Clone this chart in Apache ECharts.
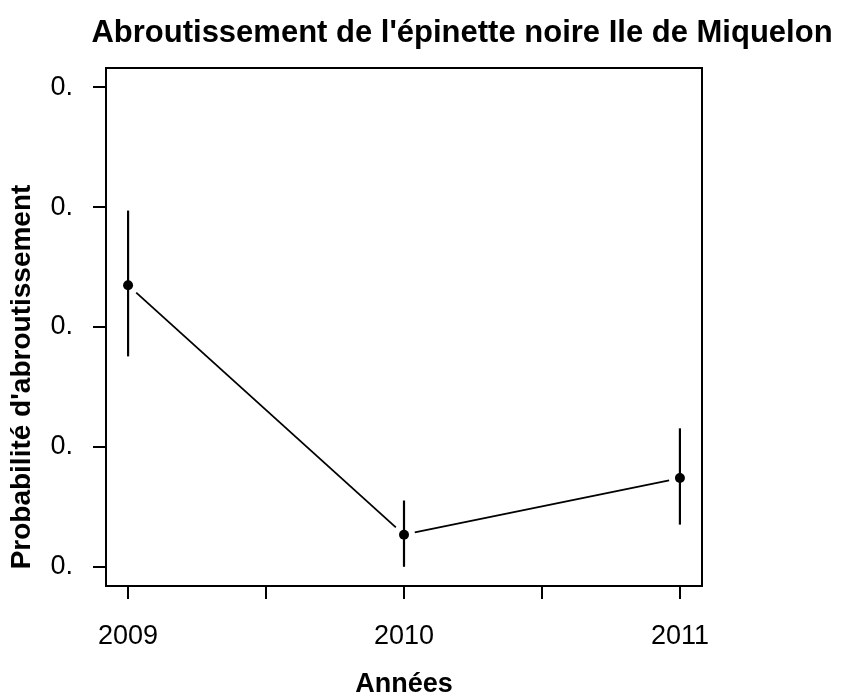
<!DOCTYPE html>
<html>
<head>
    <meta charset="utf-8">
    <title>Abroutissement de l'épinette noire Ile de Miquelon</title>
    <script src="https://cdn.jsdelivr.net/npm/echarts@6/dist/echarts.min.js"></script>
    <style>
        html, body { margin: 0; padding: 0; background: #fff; }
        #chart-container { width: 847px; height: 700px; }
    </style>
</head>
<body>
<div id="chart-container"></div>
<script>
    // données
    var years = [2009, 2010, 2011];
    var prob = [0.2348, 0.0268, 0.0740];
    var ciLow = [0.1755, 0.0000, 0.0352];
    var ciHigh = [0.2971, 0.0553, 0.1155];

    var xTicks = [2009, 2009.5, 2010, 2010.5, 2011];
    var xLabels = [2009, 2010, 2011];
    var yTicks = [0, 0.1, 0.2, 0.3, 0.4];
    var yTickLabels = ['0.', '0.', '0.', '0.', '0.'];

    var font = '"Liberation Sans", Arial, Helvetica, sans-serif';
    var myChart = echarts.init(document.getElementById('chart-container'));

    var points = years.map(function (y, i) { return [y, prob[i]]; });
    var bars = years.map(function (y, i) { return [y, ciLow[i], ciHigh[i]]; });

    var option = {
        backgroundColor: '#fff',
        animation: false,
        graphic: [{
            type: 'text',
            x: 462, y: 33,
            style: {
                text: "Abroutissement de l'épinette noire Ile de Miquelon",
                font: 'bold 31px ' + font,
                fill: '#000',
                textAlign: 'center',
                textVerticalAlign: 'middle'
            }
        }, {
            type: 'text',
            x: 22, y: 377,
            rotation: Math.PI / 2,
            style: {
                text: "Probabilité d'abroutissement",
                font: 'bold 28px ' + font,
                fill: '#000',
                textAlign: 'center',
                textVerticalAlign: 'middle'
            }
        }, {
            type: 'text',
            x: 404, y: 685,
            style: {
                text: 'Années',
                font: 'bold 27px ' + font,
                fill: '#000',
                textAlign: 'center',
                textVerticalAlign: 'middle'
            }
        }],
        grid: {
            left: 106, right: 145, top: 68, bottom: 114,
            show: true,
            borderColor: '#000',
            borderWidth: 2,
            backgroundColor: 'transparent'
        },
        xAxis: {
            type: 'value',
            min: 2008.92,
            max: 2011.08,
            axisLine: { show: false, onZero: false },
            splitLine: { show: false },
            axisTick: {
                show: true, length: 13,
                customValues: xTicks,
                lineStyle: { color: '#000', width: 2 }
            },
            axisLabel: {
                customValues: xLabels,
                margin: 37,
                fontSize: 27,
                fontFamily: font,
                color: '#000',
                formatter: function (v) { return String(v); }
            }
        },
        yAxis: {
            type: 'value',
            min: -0.016,
            max: 0.416,
            axisLine: { show: false, onZero: false },
            splitLine: { show: false },
            axisTick: {
                show: true, length: 13,
                customValues: yTicks,
                lineStyle: { color: '#000', width: 2 }
            },
            axisLabel: {
                customValues: yTicks,
                margin: 33,
                fontSize: 27,
                fontFamily: font,
                color: '#000',
                formatter: function (v) {
                    var i = yTicks.indexOf(Math.round(v * 10) / 10);
                    return i >= 0 ? yTickLabels[i] : '';
                }
            }
        },
        series: [{
            // segments entre les points, avec un espace autour de chaque point
            type: 'custom',
            data: points,
            renderItem: function (params, api) {
                var i = params.dataIndex;
                if (i >= points.length - 1) return null;
                var a = api.coord(points[i]);
                var b = api.coord(points[i + 1]);
                var dx = b[0] - a[0], dy = b[1] - a[1];
                var len = Math.sqrt(dx * dx + dy * dy);
                var gap = 11;
                var ux = dx / len, uy = dy / len;
                return {
                    type: 'line',
                    shape: {
                        x1: a[0] + ux * gap, y1: a[1] + uy * gap,
                        x2: b[0] - ux * gap, y2: b[1] - uy * gap
                    },
                    style: { stroke: '#000', lineWidth: 1.8 }
                };
            }
        }, {
            type: 'custom',
            data: bars,
            renderItem: function (params, api) {
                var lo = api.coord([api.value(0), api.value(1)]);
                var hi = api.coord([api.value(0), api.value(2)]);
                return {
                    type: 'line',
                    shape: { x1: lo[0], y1: lo[1], x2: hi[0], y2: hi[1] },
                    style: { stroke: '#000', lineWidth: 2.2 }
                };
            }
        }, {
            type: 'scatter',
            data: points,
            symbol: 'circle',
            symbolSize: 10,
            itemStyle: { color: '#000', opacity: 1 }
        }]
    };

    myChart.setOption(option);
</script>
</body>
</html>
